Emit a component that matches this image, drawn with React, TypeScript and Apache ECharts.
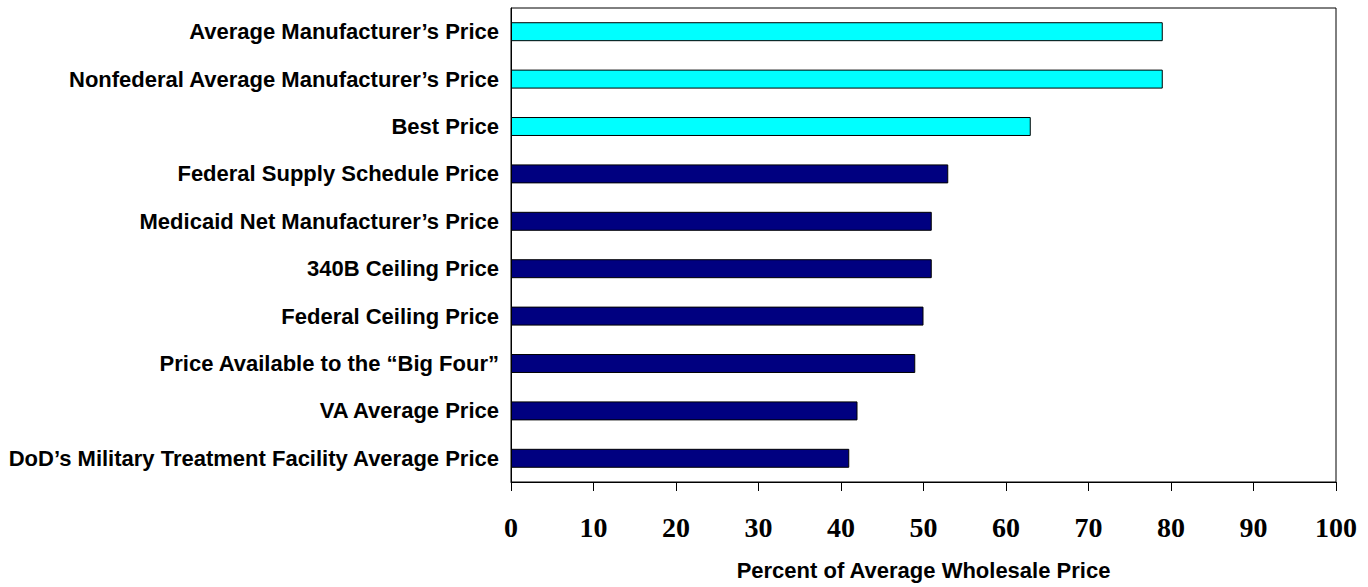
import React, { useEffect, useRef } from "react";
import * as echarts from "echarts";

const categories = [
  "Average Manufacturer’s Price",
  "Nonfederal Average Manufacturer’s Price",
  "Best Price",
  "Federal Supply Schedule Price",
  "Medicaid Net Manufacturer’s Price",
  "340B Ceiling Price",
  "Federal Ceiling Price",
  "Price Available to the “Big Four”",
  "VA Average Price",
  "DoD’s Military Treatment Facility Average Price",
];
const values = [79, 79, 63, 53, 51, 51, 50, 49, 42, 41];
const barColors = [
  "#00FFFF", "#00FFFF", "#00FFFF",
  "#000080", "#000080", "#000080", "#000080", "#000080", "#000080", "#000080",
];
const xTicks = { min: 0, max: 100, interval: 10 };
const xTitle = "Percent of Average Wholesale Price";

export default function App() {
  const ref = useRef<HTMLDivElement>(null);
  useEffect(() => {
    document.body.style.margin = "0";
    document.body.style.overflow = "hidden";
    if (!ref.current) return;
    const chart = echarts.init(ref.current, null, { renderer: "svg" });
    chart.setOption({
      animation: false,
      backgroundColor: "#ffffff",
      grid: { left: 511, right: 32, top: 8, bottom: 105, containLabel: false },
      xAxis: {
        type: "value",
        min: xTicks.min,
        max: xTicks.max,
        interval: xTicks.interval,
        name: xTitle,
        nameLocation: "middle",
        nameGap: 77,
        nameTextStyle: { fontFamily: "Arial, Liberation Sans, sans-serif", fontWeight: "bold", fontSize: 22, color: "#000" },
        axisLine: { show: true, lineStyle: { color: "#000", width: 1 } },
        axisTick: { show: true, length: 9, lineStyle: { color: "#000" } },
        axisLabel: { margin: 31, fontFamily: "Times New Roman, Liberation Serif, serif", fontWeight: "bold", fontSize: 28, color: "#000" },
        splitLine: { show: false },
      },
      yAxis: {
        type: "category",
        inverse: true,
        data: categories,
        axisLine: { show: true, lineStyle: { color: "#000", width: 1 } },
        axisTick: { show: false },
        axisLabel: { margin: 12, fontFamily: "Arial, Liberation Sans, sans-serif", fontWeight: "bold", fontSize: 22, color: "#000" },
        splitLine: { show: false },
      },
      series: [
        {
          type: "bar",
          data: values.map((v, i) => ({ value: v, itemStyle: { color: barColors[i] } })),
          barCategoryGap: "60%",
          itemStyle: { borderColor: "#000", borderWidth: 1 },
        },
      ],
      graphic: [
        {
          type: "rect",
          shape: { x: 511, y: 8, width: 825, height: 474 },
          style: { fill: "none", stroke: "#000", lineWidth: 1 },
          z: 10,
          silent: true,
        },
      ],
    });
    return () => chart.dispose();
  }, []);
  return <div ref={ref} style={{ width: 1368, height: 587 }} />;
}
